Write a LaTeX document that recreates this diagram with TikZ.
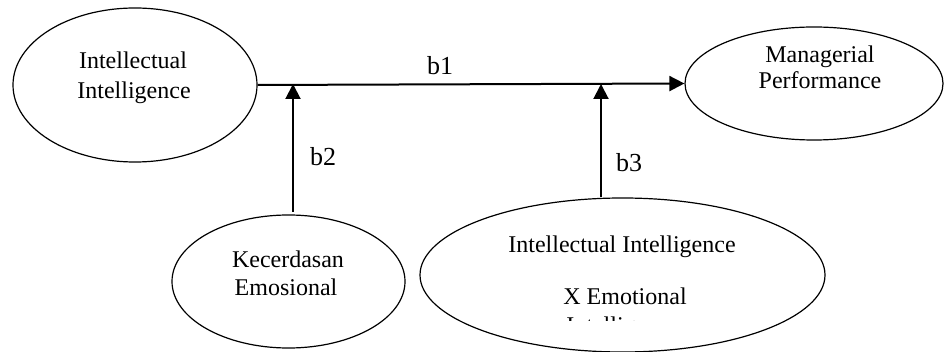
\documentclass[tikz,border=0pt]{standalone}
\usepackage{fontspec}
\setmainfont{Liberation Serif}
\usetikzlibrary{arrows.meta,shapes.geometric}
\tikzset{
  oval/.style={ellipse,draw=black,line width=1.2pt,inner sep=0pt},
  lbl/.style={anchor=base,inner sep=0pt,font=\fontsize{24}{28}\selectfont},
  blbl/.style={anchor=base,inner sep=0pt,font=\fontsize{26}{30}\selectfont},
  conn/.style={line width=2pt,-{Triangle[length=15pt,width=15pt]}},
  plain/.style={line width=2pt}
}
\begin{document}
\begin{tikzpicture}[x=1pt,y=-1pt]
\useasboundingbox (0,0) rectangle (944,352);
% ellipses
\node[oval,minimum width=244pt,minimum height=154pt] (ii) at (135,85) {};
\node[oval,minimum width=258pt,minimum height=113pt] (mp) at (814,83.5) {};
\node[oval,minimum width=233pt,minimum height=133pt] (ke) at (288.5,281.5) {};
\node[oval,minimum width=405pt,minimum height=154pt] (ix) at (622.5,275) {};
% texts
\node[lbl] (t1a) at (133,69) {Intellectual};
\node[lbl] (t1b) at (134,99) {Intelligence};
\node[lbl] (t2a) at (820,63) {Managerial};
\node[lbl] (t2b) at (820,89) {Performance};
\node[lbl] (t3a) at (288,268) {Kecerdasan};
\node[lbl] (t3b) at (286,296) {Emosional};
\node[lbl] (t4a) at (622,253) {Intellectual Intelligence};
\node[lbl] (t4b) at (625,305) {X Emotional};
\begin{scope}
  \clip (540,300) rectangle (720,320);
  \node[lbl] (t4c) at (623,334) {Intelligence};
\end{scope}
% connectors
\coordinate (j2) at (293,84);
\coordinate (j3) at (601,84);
\coordinate (s2) at (293,212);
\draw[conn] (ii.east) -- (mp.west);
\draw[conn] (s2) -- (j2);
\draw[conn] (ix.north -| j3) -- (j3);
% labels
\node[blbl] (b1) at (440,75) {b1};
\node[blbl] (b2) at (323,166) {b2};
\node[blbl] (b3) at (629,172) {b3};
\end{tikzpicture}
\end{document}
